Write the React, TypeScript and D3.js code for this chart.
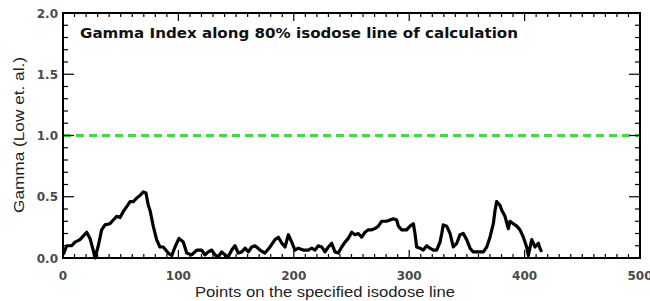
import React from "react";
import * as d3 from "d3";

const points = [0.3,3.2,7.5,10.4,14.7,20.5,23.4,26.3,27.7,30.6,33.5,36.4,40.7,43.6,46.5,49.4,52.3,55.2,58.1,61,63.9,66.7,69.6,71.9,73.9,75.4,78.2,81.1,84,86.9,91.2,94.2,97.1,100.5,104.2,107.2,111.5,115.9,120.2,123,125.9,128.9,131.7,134.6,137.5,140.4,143.2,146.2,149,151.9,154.9,157.7,160.6,163.5,166.4,170.7,175,179.4,183.7,186.6,189.6,192.4,195.3,198.2,201,203.9,208.2,212.6,215.5,218.4,221.2,224.2,227,229.9,232.8,235.7,238.6,241.5,244.4,247.2,250.2,253,255.9,258.8,261.7,264.6,267.5,270.4,273.2,276.2,280.5,283.4,286.2,289.2,290.6,293.5,297.8,300.7,303.6,305,306.5,309.4,312.2,315.2,318,320.9,323.8,326.7,328.2,329.5,332.5,335.4,338.2,341.2,344,346.9,349.8,352.7,355.5,358.5,361.3,364.2,367.2,370,372.9,374.4,375.8,378.7,380.2,383,385.9,387.3,390.2,393.2,396,398.9,401.8,403.2,406.2,409,411.9,413.3,414.8];
const gamma = [0.03,0.1,0.1,0.13,0.15,0.21,0.16,0.06,0.0,0.1,0.23,0.27,0.28,0.31,0.34,0.33,0.38,0.42,0.46,0.46,0.49,0.51,0.54,0.53,0.43,0.39,0.26,0.15,0.09,0.09,0.04,0.02,0.09,0.16,0.13,0.04,0.025,0.065,0.065,0.025,0.05,0.065,0.025,0.01,0.05,0.025,0.01,0.065,0.1,0.04,0.05,0.08,0.05,0.09,0.1,0.065,0.04,0.09,0.15,0.17,0.12,0.09,0.19,0.13,0.065,0.08,0.065,0.065,0.08,0.065,0.1,0.09,0.05,0.09,0.12,0.05,0.04,0.09,0.13,0.16,0.21,0.19,0.2,0.17,0.21,0.23,0.23,0.24,0.26,0.3,0.3,0.31,0.32,0.31,0.26,0.23,0.23,0.26,0.28,0.2,0.09,0.08,0.065,0.1,0.08,0.065,0.065,0.13,0.2,0.27,0.26,0.2,0.09,0.12,0.19,0.2,0.15,0.08,0.05,0.05,0.05,0.05,0.09,0.17,0.28,0.39,0.46,0.43,0.39,0.34,0.24,0.3,0.28,0.26,0.23,0.17,0.09,0.02,0.15,0.09,0.12,0.08,0.05];

const xTicks = [0, 100, 200, 300, 400, 500];
const yTicks = [0.0, 0.5, 1.0, 1.5, 2.0];
const threshold = 1.0;
const title = "Gamma Index along 80% isodose line of calculation";
const xTitle = "Points on the specified isodose line";
const yTitle = "Gamma (Low et. al.)";

export default function App() {
  const W = 650, H = 301;
  const L = 63, R = 640, T = 13, B = 258;
  const x = d3.scaleLinear().domain([0, 500]).range([L, R]);
  const y = d3.scaleLinear().domain([0, 2]).range([B, T]);
  const line = d3.line<number>().x((_, i) => x(points[i])).y((d) => y(d));
  const xMinor = d3.range(0, 501, 10);
  const yMinor = d3.range(0, 2.001, 0.1);
  const font = "'DejaVu Sans', Verdana, sans-serif";
  const font2 = "'Liberation Sans', Arial, sans-serif";
  return (
    <svg width={W} height={H} style={{ position: "absolute", left: 0, top: 0, background: "#fff" }}>
      <rect x={0} y={0} width={W} height={H} fill="#fff" />
      <line x1={x(0)} x2={x(500)} y1={y(threshold)} y2={y(threshold)} stroke="#3fdc3f" strokeWidth={3} strokeDasharray="8,5" />
      <path d={line(gamma) || ""} fill="none" stroke="#000" strokeWidth={3.2} strokeLinejoin="round" />
      {xMinor.map((t) => {
        const major = t % 100 === 0;
        const len = major ? 8 : 4;
        return (
          <g key={"xt" + t}>
            <line x1={x(t)} x2={x(t)} y1={B} y2={B - len} stroke="#000" strokeWidth={1.2} />
            <line x1={x(t)} x2={x(t)} y1={T} y2={T + len} stroke="#000" strokeWidth={1.2} />
          </g>
        );
      })}
      {yMinor.map((t, i) => {
        const major = i % 5 === 0;
        const len = major ? 11 : 5;
        return (
          <g key={"yt" + i}>
            <line x1={L} x2={L + len} y1={y(t)} y2={y(t)} stroke="#000" strokeWidth={1.2} />
            <line x1={R} x2={R - len} y1={y(t)} y2={y(t)} stroke="#000" strokeWidth={1.2} />
          </g>
        );
      })}
      <rect x={L} y={T} width={R - L} height={B - T} fill="none" stroke="#000" strokeWidth={2} />
      {xTicks.map((t) => (
        <text key={"xl" + t} x={x(t)} y={280} textAnchor="middle" fontFamily={font} fontWeight="bold" fontSize={12} fill="#4a4a4a">{t}</text>
      ))}
      {yTicks.map((t) => (
        <text key={"yl" + t} x={58} y={y(t) + 4.5} textAnchor="end" fontFamily={font} fontWeight="bold" fontSize={12} fill="#4a4a4a">{t.toFixed(1)}</text>
      ))}
      <text x={80} y={38} fontFamily={font} fontWeight="bold" fontSize={14} fill="#111" textLength={438} lengthAdjust="spacingAndGlyphs">{title}</text>
      <text x={195} y={297} fontFamily={font2} fontSize={14} fill="#222" textLength={260} lengthAdjust="spacingAndGlyphs">{xTitle}</text>
      <text transform={`translate(24,${135}) rotate(-90)`} textAnchor="middle" fontFamily={font2} fontSize={14} fill="#222" textLength={156} lengthAdjust="spacingAndGlyphs">{yTitle}</text>
    </svg>
  );
}
